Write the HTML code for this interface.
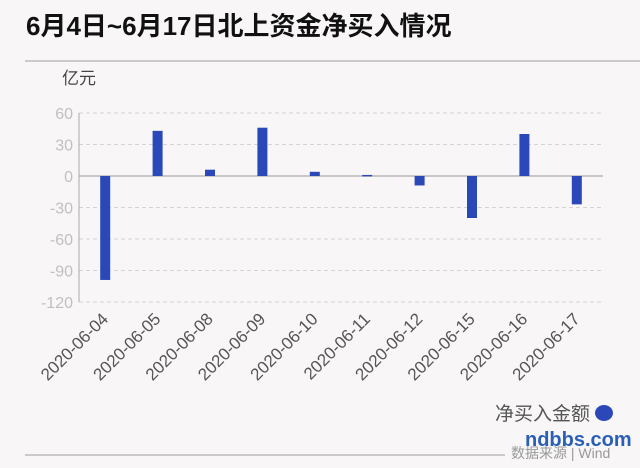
<!DOCTYPE html>
<html><head><meta charset="utf-8"><style>
body{margin:0;width:640px;height:463px;background:#f8f6f6;overflow:hidden;font-family:"Liberation Sans","Noto Sans CJK SC",sans-serif}
</style></head><body>
<svg width="640" height="463" xmlns="http://www.w3.org/2000/svg">
<text x="26" y="35" font-size="26" font-weight="bold" fill="#111" font-family="Liberation Sans, Noto Sans CJK SC, sans-serif">6月4日~6月17日北上资金净买入情况</text>
<line x1="25" y1="61" x2="640" y2="61" stroke="#bbb" stroke-width="1.5"/>
<text x="62" y="84" font-size="17" fill="#444" font-family="Liberation Sans, Noto Sans CJK SC, sans-serif">亿元</text>
<g id="grid"></g><g id="bars"></g><g id="xl"></g>
<line x1="79" y1="113" x2="79" y2="302" stroke="#aaa"/>
<text x="590" y="420" font-size="19" fill="#555" text-anchor="end" font-family="Liberation Sans, Noto Sans CJK SC, sans-serif">净买入金额</text>
<ellipse cx="604" cy="413" rx="9" ry="8" fill="#2a48b8"/>
<line x1="25" y1="455" x2="505" y2="455" stroke="#bbb" stroke-width="1.5"/>
<text x="511" y="458" font-size="14" fill="#999" font-family="Liberation Sans, Noto Sans CJK SC, sans-serif">数据来源 | Wind</text>
<text x="525" y="446" font-size="20" fill="#2a5fb8" font-weight="bold" font-family="Liberation Sans, sans-serif">ndbbs.com</text>
</svg>
<script>
const categories=["2020-06-04","2020-06-05","2020-06-08","2020-06-09","2020-06-10","2020-06-11","2020-06-12","2020-06-15","2020-06-16","2020-06-17"];
const values=[-99,43,6,46,4,1,-9,-40,40,-27];
const ticks=[60,30,0,-30,-60,-90,-120];
const NS="http://www.w3.org/2000/svg";
const L=79,R=603,yMax=60,yMin=-120,T=113,B=302;
const y=v=>T+(yMax-v)/(yMax-yMin)*(B-T);
const band=(R-L)/categories.length;
const xc=i=>L+band*(i+0.5);
function mk(tag,attrs,parent){const e=document.createElementNS(NS,tag);for(const k in attrs)e.setAttribute(k,attrs[k]);document.getElementById(parent).appendChild(e);return e;}
ticks.forEach(t=>{
  const ln=mk('line',{x1:L,x2:R,y1:y(t),y2:y(t),stroke:t===0?'#aaa':'#d4d4d4','stroke-width':t===0?1.3:1,'stroke-dasharray':t===0?'':'4 3'},'grid');
  
  
  const tx=mk('text',{x:L-6,y:y(t)+6,'text-anchor':'end','font-size':16,fill:'#c0c0c0','font-family':'Liberation Sans, sans-serif'},'grid');
  tx.textContent=t;
  
  
});
categories.forEach((c,i)=>{
  const v=values[i],y0=y(0),yv=y(v);
  const r=mk('rect',{x:xc(i)-5,width:10,y:Math.min(y0,yv),height:Math.max(1.5,Math.abs(yv-y0)),fill:'#2a48b8'},'bars');
  
  
  const tx=mk('text',{x:0,y:0,'text-anchor':'end','font-size':17,fill:'#555','font-family':'Liberation Sans, sans-serif',transform:`translate(${xc(i)+4},${320}) rotate(-45)`},'xl');
  tx.textContent=c;
  
  
});
</script>
</body></html>
